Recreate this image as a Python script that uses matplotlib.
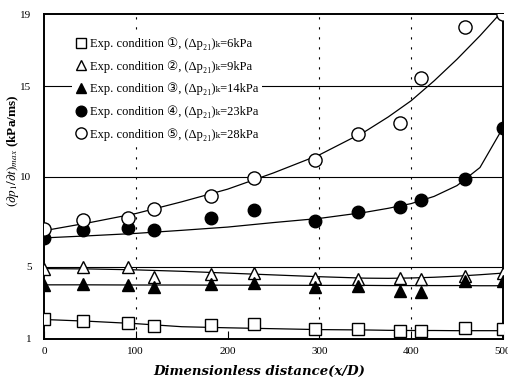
import matplotlib
matplotlib.use("Agg")
import matplotlib.pyplot as plt

plt.rcParams['font.family'] = ['Liberation Serif', 'DejaVu Serif', 'DejaVu Sans', 'Noto Sans CJK JP']
plt.rcParams['mathtext.fontset'] = 'stix'

# measured peak pressure rise rate along the pipe
x_pos = [0, 43, 92, 120, 182, 229, 295, 342, 388, 411, 459, 500]
cond1 = [2.09, 2.01, 1.90, 1.72, 1.78, 1.83, 1.54, 1.54, 1.44, 1.46, 1.59, 1.54]
cond2 = [4.86, 5.00, 4.97, 4.45, 4.60, 4.67, 4.36, 4.30, 4.36, 4.30, 4.49, 4.67]
cond3 = [3.99, 4.05, 4.00, 3.90, 4.03, 4.12, 3.90, 3.93, 3.67, 3.62, 4.23, 4.23]
cond4 = [6.58, 7.04, 7.13, 7.04, 7.68, 8.14, 7.55, 8.01, 8.33, 8.70, 9.84, 12.7]
cond5 = [7.10, 7.57, 7.72, 8.18, 8.93, 9.90, 10.9, 12.37, 12.98, 15.45, 18.3, 19.0]

# fitted trend curves
fit_x = [0, 50, 100, 150, 200, 250, 300, 350, 375, 400, 425, 450, 475, 500]
fit1 = [2.08, 1.98, 1.85, 1.68, 1.62, 1.57, 1.52, 1.50, 1.48, 1.47, 1.47, 1.46, 1.46, 1.46]
fit2 = [4.90, 4.88, 4.83, 4.75, 4.65, 4.55, 4.45, 4.37, 4.36, 4.38, 4.42, 4.48, 4.56, 4.65]
fit3 = [4.00, 4.00, 3.99, 3.99, 3.98, 3.98, 3.97, 3.97, 3.96, 3.96, 3.96, 3.96, 3.95, 3.95]
fit4 = [6.60, 6.72, 6.85, 7.02, 7.20, 7.45, 7.68, 8.02, 8.24, 8.50, 8.90, 9.50, 10.5, 12.7]
fit5 = [7.00, 7.45, 7.95, 8.60, 9.30, 10.2, 11.2, 12.5, 13.3, 14.2, 15.3, 16.5, 17.8, 19.2]

labels = ["Exp. condition ①, (Δp₂₁)ₖ=6kPa",
          "Exp. condition ②, (Δp₂₁)ₖ=9kPa",
          "Exp. condition ③, (Δp₂₁)ₖ=14kPa",
          "Exp. condition ④, (Δp₂₁)ₖ=23kPa",
          "Exp. condition ⑤, (Δp₂₁)ₖ=28kPa"]

fig = plt.figure(figsize=(5.08, 3.82), dpi=100)
ax = fig.add_axes([0.0866, 0.1126, 0.9034, 0.8505])

for y in [5, 10, 15]:
    ax.axhline(y, color='black', lw=0.8, zorder=1)
for x in [100, 300, 400]:
    ax.axvline(x, color='black', lw=0.8, ls=(0, (2, 7)), zorder=1)

for fy in [fit1, fit2, fit3, fit4, fit5]:
    ax.plot(fit_x, fy, color='black', lw=0.9, zorder=2)

h1, = ax.plot(x_pos, cond1, 's', ms=8, mfc='white', mec='black', mew=1.0, zorder=3)
h2, = ax.plot(x_pos, cond2, '^', ms=8.5, mfc='white', mec='black', mew=1.0, zorder=3)
h3, = ax.plot(x_pos, cond3, '^', ms=8.5, mfc='black', mec='black', zorder=3)
h4, = ax.plot(x_pos, cond4, 'o', ms=9, mfc='black', mec='black', zorder=3)
h5, = ax.plot(x_pos, cond5, 'o', ms=9.5, mfc='white', mec='black', mew=1.0, zorder=3)

leg = ax.legend([h1, h2, h3, h4, h5], labels, loc='upper left',
                bbox_to_anchor=(0.06, 0.94), borderaxespad=0, borderpad=0.3,
                frameon=True, fancybox=False, edgecolor='none', facecolor='white',
                framealpha=1, fontsize=9, handlelength=0.9, handletextpad=0.3,
                labelspacing=0.8, markerscale=0.85)
leg.set_zorder(4)

ax.set_xlim(0, 500)
ax.set_ylim(1, 19)
ax.set_xticks([0, 100, 200, 300, 400, 500])
ax.set_yticks([1, 5, 10, 15, 19])
ax.tick_params(axis='x', direction='in', length=6, width=0.8, labelsize=8, pad=6)
ax.tick_params(axis='y', length=0, labelsize=8, pad=9)
for s in ax.spines.values():
    s.set_linewidth(1.4)

ax.set_xlabel('Dimensionless distance(x/D)', fontsize=9.5, style='italic',
              fontweight='bold', family=['DejaVu Serif'])
ax.xaxis.set_label_coords(0.47, -0.08)
ax.set_ylabel(r'$(\partial p_1/\partial t)_{max}$ (kPa/ms)', fontsize=9.5, fontweight='bold')
ax.yaxis.set_label_coords(-0.05, 0.58)

fig.savefig('out.png', dpi=100)
